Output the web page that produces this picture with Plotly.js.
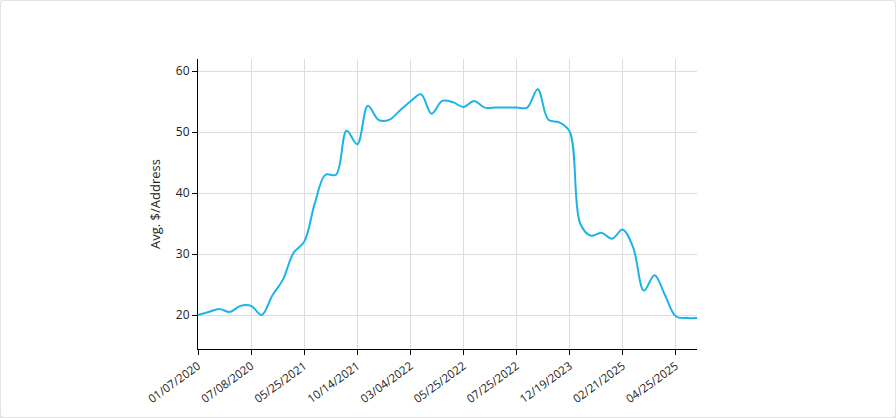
<!DOCTYPE html>
<html>
<head>
<meta charset="utf-8">
<script src="https://cdn.plot.ly/plotly-3.0.1.min.js"></script>
<style>
  html, body { margin: 0; padding: 0; background: #f4f4f4; }
  #card { position: absolute; left: 0; top: 0; width: 894px; height: 416px; background: #fff;
          border: 1px solid #e2e2e2; border-radius: 4px; box-shadow: 0 1px 2px rgba(0,0,0,0.12); }
  #chart { position: absolute; left: -1px; top: -1px; width: 896px; height: 418px; }
</style>
</head>
<body>
<div id="card"><div id="chart"></div></div>
<script>
// Average $ per address, one value per observation (category axis, evenly spaced)
const avgPerAddress = [
  20, 20.5, 21, 20.5, 21.5, 21.5, 20, 23.2, 25.8, 30.2,
  32, 38.3, 43, 43, 50.2, 48, 54.3, 52, 52, 53.5,
  55, 56.2, 53, 55.1, 54.9, 54.1, 55.1, 54, 54, 54,
  54, 54, 57, 52, 51.6, 50.1, 35, 33, 33.5, 32.5,
  34, 31, 24, 26.5, 23.2, 19.8, 19.5, 19.5
];
// Labelled observations (every fifth one)
const tickIndex = [0, 5, 10, 15, 20, 25, 30, 35, 40, 45];
const tickLabels = ["01/07/2020", "07/08/2020", "05/25/2021", "10/14/2021", "03/04/2022",
                    "05/25/2022", "07/25/2022", "12/19/2023", "02/21/2025", "04/25/2025"];
const yTitle = "Avg. $/Address";

const position = avgPerAddress.map((_, i) => i);

const trace = {
  x: position,
  y: avgPerAddress,
  type: "scatter",
  mode: "lines",
  line: { color: "#1cb4e8", width: 2, shape: "spline" },
  hoverinfo: "y"
};

const font = { family: "Open Sans, Lato, sans-serif", size: 11, color: "#222" };

const layout = {
  width: 896, height: 418,
  margin: { l: 198, r: 199, t: 59, b: 69, pad: 0 },
  paper_bgcolor: "rgba(0,0,0,0)",
  plot_bgcolor: "#fff",
  showlegend: false,
  font: font,
  xaxis: {
    range: [0, position.length - 1],
    tickmode: "array",
    tickvals: tickIndex,
    ticktext: tickLabels,
    tickangle: -36,
    ticks: "outside", ticklen: 5, tickcolor: "#000",
    showline: true, linecolor: "#000", linewidth: 1,
    showgrid: true, gridcolor: "#dcdcdc", gridwidth: 1,
    zeroline: false,
    tickfont: { family: font.family, size: 11.5, color: "#222" }
  },
  yaxis: {
    range: [14.43, 61.97],
    tickmode: "array",
    tickvals: [20, 30, 40, 50, 60],
    ticks: "outside", ticklen: 5, tickcolor: "#000",
    showline: true, linecolor: "#000", linewidth: 1,
    showgrid: true, gridcolor: "#dcdcdc", gridwidth: 1,
    zeroline: false,
    tickfont: { family: font.family, size: 12, color: "#222" },
    title: { text: yTitle, font: { family: font.family, size: 13, color: "#222" }, standoff: 12 }
  }
};

Plotly.newPlot("chart", [trace], layout, { displayModeBar: false, staticPlot: true });
</script>
</body>
</html>
